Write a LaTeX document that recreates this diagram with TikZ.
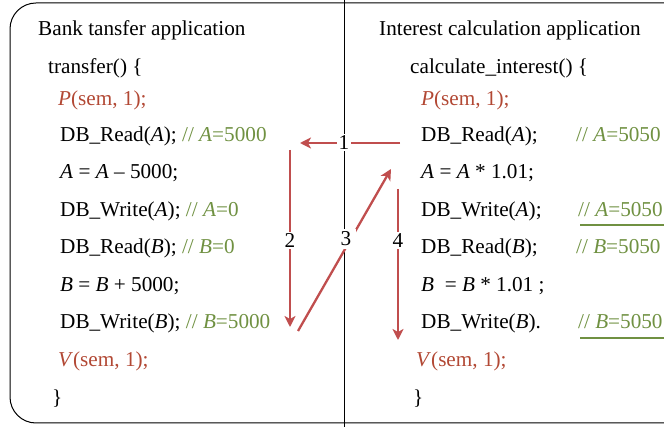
\documentclass[tikz,border=0pt]{standalone}
\usepackage{fontspec}
\setmainfont{Liberation Serif}
\usetikzlibrary{arrows.meta}
\definecolor{semred}{RGB}{178,72,52}
\definecolor{cmtgreen}{RGB}{112,145,66}
\definecolor{arrred}{RGB}{192,78,78}
\tikzset{
  code/.style={anchor=base west, inner sep=0pt, font=\fontsize{21.2}{24}\selectfont},
  sem/.style={code, text=semred},
  cmt/.style={code, text=cmtgreen},
  flow/.style={draw=arrred, line width=2.3pt, -{Stealth[length=11pt,width=11pt,inset=3pt]}},
  num/.style={fill=white, inner sep=1.5pt, font=\fontsize{21.2}{24}\selectfont},
  uline/.style={draw=cmtgreen, line width=2.2pt}
}
\begin{document}
\begin{tikzpicture}[x=1pt,y=-1pt]
\useasboundingbox (0,0) rectangle (664,427);
\clip (0,0) rectangle (664,427);
\draw[line width=1pt, rounded corners=26pt] (10,3) rectangle (690,423);
\draw[line width=1pt] (344,0) -- (344,427);
% left column
\node[code] (lt) at (38,36) {Bank tansfer application};
\node[code] (l1) at (48,74) {transfer() \{};
\node[sem] (l2) at (58,106) {\textit{P}(sem, 1);};
\node[code] (l3) at (60,142) {DB\_Read(\textit{A}); \textcolor{cmtgreen}{// \textit{A}=5000}};
\node[code] (l4) at (60,179) {\textit{A} = \textit{A} -- 5000;};
\node[code] (l5) at (60,217) {DB\_Write(\textit{A}); \textcolor{cmtgreen}{// \textit{A}=0}};
\node[code] (l6) at (60,254) {DB\_Read(\textit{B}); \textcolor{cmtgreen}{// \textit{B}=0}};
\node[code] (l7) at (60,292) {\textit{B} = \textit{B} + 5000;};
\node[code] (l8) at (60,329) {DB\_Write(\textit{B}); \textcolor{cmtgreen}{// \textit{B}=5000}};
\node[sem] (l9) at (58,367) {\textit{V}(sem, 1);};
\node[code] (l10) at (52,405) {\}};
% right column
\node[code] (rt) at (379,36) {Interest calculation application};
\node[code] (r1) at (410,74) {calculate\_interest() \{};
\node[sem] (r2) at (421,106) {\textit{P}(sem, 1);};
\node[code] (r3) at (421,142) {DB\_Read(\textit{A});};
\node[cmt] (c3) at (576,142) {// \textit{A}=5050};
\node[code] (r4) at (421,179) {\textit{A} = \textit{A} * 1.01;};
\node[code] (r5) at (421,217) {DB\_Write(\textit{A});};
\node[cmt] (c5) at (578,217) {// \textit{A}=5050};
\node[code] (r6) at (421,254) {DB\_Read(\textit{B});};
\node[cmt] (c6) at (576,254) {// \textit{B}=5050};
\node[code] (r7) at (421,292) {\textit{B}\ \ = \textit{B} * 1.01 ;};
\node[code] (r8) at (421,329) {DB\_Write(\textit{B}).};
\node[cmt] (c8) at (578,329) {// \textit{B}=5050};
\node[sem] (r9) at (416,367) {\textit{V}(sem, 1);};
\node[code] (r10) at (413,405) {\}};
% underlines
\coordinate (u5a) at (580,225); \coordinate (u5b) at (664,225);
\coordinate (u8a) at (580,338); \coordinate (u8b) at (664,338);
\draw[uline] (u5a) -- (u5b);
\draw[uline] (u8a) -- (u8b);
% arrows
\coordinate (a1s) at (400,143); \coordinate (a1e) at (300,143);
\coordinate (a2s) at (290,150); \coordinate (a2e) at (290,327);
\coordinate (a3s) at (298,331); \coordinate (a3e) at (391,169);
\coordinate (a4s) at (398,189); \coordinate (a4e) at (398,340);
\draw[flow] (a1s) -- node[num, pos=0.56] (n1) {1} (a1e);
\draw[flow] (a2s) -- node[num, pos=0.51] (n2) {2} (a2e);
\draw[flow] (a3s) -- (a3e);
\node[num, inner xsep=5pt, inner ysep=3pt] (n3) at (346,239) {3};
\draw[flow] (a4s) -- node[num, pos=0.34] (n4) {4} (a4e);
\end{tikzpicture}
\end{document}
